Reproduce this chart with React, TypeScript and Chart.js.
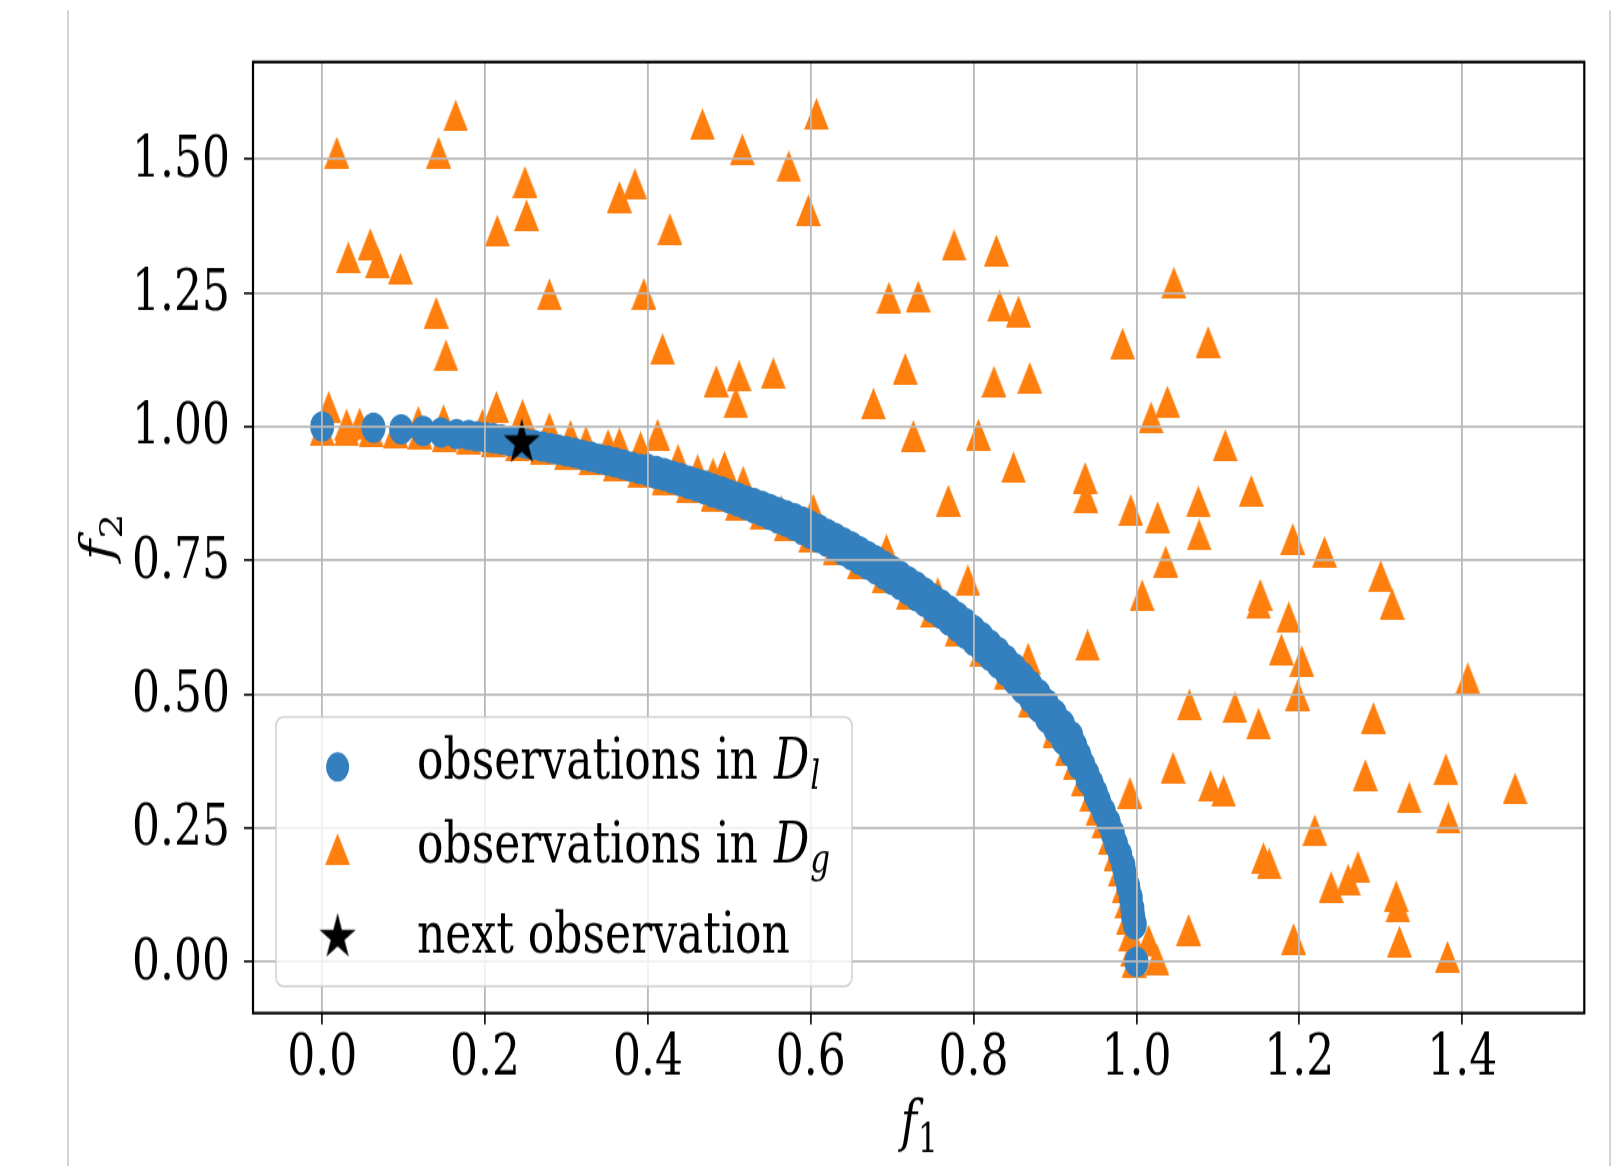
import React, { useEffect, useRef } from 'react';
import { Chart, registerables } from 'chart.js';

Chart.register(...registerables);

// ---------------- data ----------------
const X_TICKS = [0, 0.2, 0.4, 0.6, 0.8, 1.0, 1.2, 1.4];
const X_TICK_LABELS = ['0.0', '0.2', '0.4', '0.6', '0.8', '1.0', '1.2', '1.4'];
const Y_TICKS = [0, 0.25, 0.5, 0.75, 1.0, 1.25, 1.5];
const Y_TICK_LABELS = ['0.00', '0.25', '0.50', '0.75', '1.00', '1.25', '1.50'];
const X_RANGE = [-0.085, 1.55];
const Y_RANGE = [-0.0955, 1.681];

const LEGEND_TEXT = ['observations in ', 'observations in ', 'next observation'];
const LEGEND_MATH = ['D', 'D', ''];
const LEGEND_SUB = ['l', 'g', ''];
const X_TITLE = ['f', '1'];
const Y_TITLE = ['f', '2'];

// observations in D_l (the front)
const DL_F1 = [
  0.0, 0.063, 0.097, 0.124, 0.146, 0.165,
  0.18, 0.19, 0.2, 0.21, 0.22, 0.23, 0.24, 0.25, 0.26, 0.27,
  0.28, 0.29, 0.3, 0.31, 0.32, 0.33, 0.34, 0.35, 0.36, 0.37,
  0.38, 0.39, 0.4, 0.41, 0.42, 0.43, 0.44, 0.45, 0.46, 0.47,
  0.48, 0.49, 0.5, 0.51, 0.52, 0.53, 0.54, 0.55, 0.56, 0.57,
  0.58, 0.59, 0.6, 0.61, 0.62, 0.63, 0.64, 0.65, 0.66, 0.67,
  0.68, 0.69, 0.7, 0.71, 0.72, 0.73, 0.74, 0.75, 0.76, 0.77,
  0.78, 0.79, 0.8, 0.81, 0.82, 0.83, 0.84, 0.85, 0.86, 0.87,
  0.88, 0.89, 0.9, 0.91, 0.92, 0.93, 0.94, 0.95,
  0.954, 0.96, 0.966, 0.971, 0.975, 0.98, 0.984, 0.987, 0.99, 0.993, 0.995, 0.996, 0.998, 1.0,
];
const DL_F2 = [
  1.0, 0.998, 0.995, 0.992, 0.989, 0.986,
  0.984, 0.982, 0.98, 0.978, 0.976, 0.973, 0.971, 0.968, 0.966, 0.963,
  0.96, 0.957, 0.954, 0.951, 0.947, 0.944, 0.94, 0.937, 0.933, 0.929,
  0.925, 0.921, 0.917, 0.912, 0.908, 0.903, 0.898, 0.893, 0.888, 0.883,
  0.877, 0.872, 0.866, 0.86, 0.854, 0.848, 0.842, 0.835, 0.828, 0.822,
  0.815, 0.807, 0.8, 0.792, 0.785, 0.777, 0.768, 0.76, 0.751, 0.742,
  0.733, 0.724, 0.714, 0.704, 0.694, 0.683, 0.673, 0.661, 0.65, 0.638,
  0.626, 0.613, 0.6, 0.586, 0.572, 0.558, 0.543, 0.527, 0.51, 0.493,
  0.475, 0.456, 0.436, 0.415, 0.392, 0.368, 0.341, 0.312,
  0.3, 0.28, 0.26, 0.24, 0.22, 0.2, 0.18, 0.16, 0.14, 0.12, 0.1, 0.085, 0.07, 0.0,
];
// observations in D_l on the outer side of the band (middle part)
const DL_OUTER_F1 = [
  0.4, 0.41, 0.42, 0.43, 0.44, 0.45, 0.46, 0.47, 0.48, 0.49,
  0.5, 0.51, 0.52, 0.53, 0.54, 0.55, 0.56, 0.57, 0.58, 0.59,
  0.6, 0.61, 0.62, 0.63, 0.64, 0.65, 0.66, 0.67, 0.68, 0.69,
  0.7, 0.71, 0.72, 0.73, 0.74, 0.75, 0.76, 0.77, 0.78, 0.79,
  0.8, 0.81, 0.82, 0.83, 0.84, 0.85, 0.86, 0.87, 0.88, 0.89,
  0.9, 0.91, 0.92, 0.925, 0.93, 0.935, 0.94, 0.945, 0.95,
];
const DL_OUTER_F2 = [
  0.921, 0.917, 0.913, 0.908, 0.904, 0.899, 0.894, 0.89, 0.884, 0.879,
  0.873, 0.868, 0.862, 0.857, 0.852, 0.846, 0.84, 0.834, 0.829, 0.822,
  0.815, 0.808, 0.8, 0.792, 0.784, 0.776, 0.767, 0.758, 0.75, 0.74,
  0.731, 0.721, 0.711, 0.701, 0.69, 0.679, 0.668, 0.657, 0.645, 0.633,
  0.62, 0.607, 0.593, 0.579, 0.564, 0.549, 0.533, 0.517, 0.5, 0.482,
  0.463, 0.443, 0.422, 0.403, 0.385, 0.367, 0.35, 0.333, 0.316,
];

// observations in D_g lying just under the front
const DG_EDGE_F1 = [
  0.0, 0.03, 0.06, 0.09, 0.12, 0.15, 0.18, 0.21, 0.24, 0.27, 0.3, 0.33, 0.36, 0.39, 0.42,
  0.45, 0.48, 0.51, 0.54, 0.57, 0.6, 0.63, 0.66, 0.69, 0.72, 0.75, 0.78, 0.81, 0.84, 0.87, 0.9,
  0.915, 0.925, 0.935, 0.945, 0.953, 0.96, 0.968, 0.975, 0.98, 0.985, 0.988, 0.99, 0.993, 0.995, 0.997,
];
const DG_EDGE_F2 = [
  0.994, 0.994, 0.992, 0.99, 0.987, 0.983, 0.978, 0.972, 0.965, 0.957, 0.948, 0.938, 0.927, 0.915, 0.902,
  0.887, 0.871, 0.854, 0.836, 0.816, 0.794, 0.771, 0.745, 0.718, 0.688, 0.655, 0.62, 0.58, 0.537, 0.487, 0.43,
  0.395, 0.37, 0.34, 0.31, 0.285, 0.26, 0.23, 0.2, 0.17, 0.14, 0.11, 0.08, 0.05, 0.02, 0.0,
];

// observations in D_g just above the front
const DG_NEAR_F1 = [
  0.008, 0.03, 0.046, 0.118, 0.149, 0.197, 0.214, 0.246, 0.279, 0.305,
  0.324, 0.351, 0.365, 0.391, 0.412, 0.437, 0.461, 0.48, 0.494, 0.517,
  0.564, 0.603, 0.64, 0.693, 0.7, 0.74, 0.756, 0.79, 0.793, 0.82,
  0.85, 0.867, 0.88, 0.94, 0.992, 1.015, 1.025,
];
const DG_NEAR_F2 = [
  1.037, 1.004, 1.006, 1.009, 1.012, 1.004, 1.037, 1.022, 0.997, 0.983,
  0.972, 0.966, 0.969, 0.962, 0.985, 0.938, 0.919, 0.912, 0.925, 0.897,
  0.841, 0.845, 0.785, 0.77, 0.73, 0.69, 0.689, 0.63, 0.713, 0.59,
  0.545, 0.567, 0.49, 0.592, 0.316, 0.04, 0.005,
];

// observations in D_g scattered in the dominated region
const DG_F1 = [
  0.018, 0.143, 0.164, 0.467, 0.249, 0.251, 0.215, 0.365, 0.384, 0.427,
  0.032, 0.059, 0.068, 0.096, 0.279, 0.395, 0.14, 0.152, 0.418,
  0.607, 0.516, 0.573, 0.597, 0.776, 0.828, 0.696, 0.732, 0.832, 0.855,
  0.983, 0.484, 0.512, 0.508, 0.554, 0.716, 0.825, 0.869, 0.677, 0.726,
  0.806, 0.849, 0.769, 0.937, 0.938, 0.993, 1.026,
  1.046, 1.088, 1.038, 1.018, 1.109, 1.141, 1.076, 1.077, 1.192,
  1.231, 1.036, 1.007, 1.3, 1.314, 1.152, 1.15, 1.187, 1.178, 1.203,
  1.198, 1.407, 1.065, 1.121, 1.15, 1.291, 1.045, 1.091, 1.107, 1.281,
  1.38, 1.335, 1.465, 1.383, 1.219, 1.156, 1.163, 1.239, 1.26, 1.272,
  1.319, 1.321, 1.323, 1.382, 1.193, 1.064,
];
const DG_F2 = [
  1.512, 1.512, 1.581, 1.565, 1.457, 1.395, 1.366, 1.429, 1.453, 1.369,
  1.316, 1.341, 1.307, 1.295, 1.247, 1.248, 1.213, 1.133, 1.145,
  1.584, 1.518, 1.486, 1.404, 1.339, 1.329, 1.241, 1.243, 1.226, 1.215,
  1.155, 1.085, 1.095, 1.045, 1.1, 1.108, 1.084, 1.091, 1.043, 0.983,
  0.985, 0.924, 0.862, 0.904, 0.868, 0.844, 0.831,
  1.269, 1.158, 1.047, 1.017, 0.965, 0.88, 0.86, 0.798, 0.79,
  0.766, 0.748, 0.685, 0.721, 0.669, 0.686, 0.67, 0.644, 0.584, 0.562,
  0.499, 0.53, 0.481, 0.476, 0.445, 0.456, 0.363, 0.329, 0.319, 0.349,
  0.36, 0.307, 0.324, 0.269, 0.246, 0.194, 0.184, 0.14, 0.154, 0.178,
  0.123, 0.103, 0.038, 0.01, 0.043, 0.06,
];

// next observation
const NEXT_F1 = [0.245];
const NEXT_F2 = [0.97];

// ---------------- styling ----------------
const PAGE_W = 1614;
const PAGE_H = 1166;
const STRETCH = 1.27; // the reference picture is stretched vertically
const CANVAS_H = Math.round(PAGE_H / STRETCH);
const BLUE = '#3480bf';
const ORANGE = '#ff7f0e';
const GRID = '#b9b9b9';
const FONT = '"DejaVu Serif"';
const FS = 44;

const toPts = (xs: number[], ys: number[]) => xs.map((x, i) => ({ x, y: ys[i] }));

function makeTriangle(color: string, size: number) {
  const c = document.createElement('canvas');
  c.width = size;
  c.height = size;
  const g = c.getContext('2d')!;
  g.fillStyle = color;
  g.beginPath();
  g.moveTo(size / 2, 0);
  g.lineTo(size, size);
  g.lineTo(0, size);
  g.closePath();
  g.fill();
  return c;
}

function makeStar(color: string, R: number) {
  const s = Math.ceil(2 * R + 2);
  const c = document.createElement('canvas');
  c.width = s;
  c.height = s;
  const g = c.getContext('2d')!;
  g.fillStyle = color;
  g.beginPath();
  for (let k = 0; k < 10; k++) {
    const a = -Math.PI / 2 + (k * Math.PI) / 5;
    const r = k % 2 === 0 ? R : R * 0.382;
    const px = s / 2 + r * Math.cos(a);
    const py = s / 2 + r * Math.sin(a);
    if (k === 0) g.moveTo(px, py);
    else g.lineTo(px, py);
  }
  g.closePath();
  g.fill();
  return c;
}

export default function App() {
  const ref = useRef<HTMLCanvasElement>(null);

  useEffect(() => {
    const canvas = ref.current!;
    const tri = makeTriangle(ORANGE, 25);
    const star = makeStar('#000000', 19);

    const decor = {
      id: 'decor',
      beforeDraw(chart: any) {
        const { ctx, width, height } = chart;
        ctx.save();
        ctx.fillStyle = '#ffffff';
        ctx.fillRect(0, 0, width, height);
        ctx.strokeStyle = '#c6c6c6';
        ctx.lineWidth = 1.5;
        ctx.beginPath();
        ctx.moveTo(68, 8);
        ctx.lineTo(68, height);
        ctx.moveTo(1610, 8);
        ctx.lineTo(1610, height);
        ctx.stroke();
        ctx.restore();
      },
      afterDraw(chart: any) {
        const { ctx, chartArea: a } = chart;
        ctx.save();
        // axes frame
        ctx.strokeStyle = '#000000';
        ctx.lineWidth = 2.2;
        ctx.strokeRect(a.left, a.top, a.right - a.left, a.bottom - a.top);

        // legend box
        const bx = 276, by = 564.6, bw = 576, bh = 211.8, r = 7;
        ctx.beginPath();
        ctx.roundRect(bx, by, bw, bh, r);
        ctx.fillStyle = 'rgba(255,255,255,0.8)';
        ctx.fill();
        ctx.strokeStyle = '#d0d0d0';
        ctx.lineWidth = 1.5;
        ctx.stroke();

        const mx = 337.6;
        const rowsY = [603.8, 668.6, 737.8];
        const base = [613, 678.7, 750.4];
        // markers
        ctx.fillStyle = BLUE;
        ctx.beginPath();
        ctx.arc(mx, rowsY[0], 11.5, 0, Math.PI * 2);
        ctx.fill();
        ctx.drawImage(tri, mx - tri.width / 2, rowsY[1] - tri.height / 2);
        ctx.drawImage(star, mx - star.width / 2, rowsY[2] - star.height / 2);

        // labels
        ctx.fillStyle = '#000000';
        ctx.textBaseline = 'alphabetic';
        ctx.textAlign = 'left';
        for (let i = 0; i < 3; i++) {
          let x = 417;
          ctx.font = `${FS}px ${FONT}`;
          ctx.fillText(LEGEND_TEXT[i], x, base[i]);
          x += ctx.measureText(LEGEND_TEXT[i]).width;
          if (LEGEND_MATH[i]) {
            ctx.font = `italic ${FS}px ${FONT}`;
            ctx.fillText(LEGEND_MATH[i], x + 2, base[i]);
            x += ctx.measureText(LEGEND_MATH[i]).width + 2;
            ctx.font = `italic 31px ${FONT}`;
            ctx.fillText(LEGEND_SUB[i], x + 1, base[i] + 8);
          }
        }

        // x title
        ctx.font = `italic ${FS}px ${FONT}`;
        const fw = ctx.measureText(X_TITLE[0]).width;
        ctx.font = `31px ${FONT}`;
        const sw = ctx.measureText(X_TITLE[1]).width;
        let tx = (a.left + a.right) / 2 - (fw + sw) / 2;
        ctx.font = `italic ${FS}px ${FONT}`;
        ctx.fillText(X_TITLE[0], tx, 897.5);
        ctx.font = `31px ${FONT}`;
        ctx.fillText(X_TITLE[1], tx + fw + 1, 907);

        // y title (rotated)
        ctx.translate(112, (a.top + a.bottom) / 2);
        ctx.rotate(-Math.PI / 2);
        ctx.font = `italic ${FS}px ${FONT}`;
        const fw2 = ctx.measureText(Y_TITLE[0]).width;
        ctx.font = `31px ${FONT}`;
        const sw2 = ctx.measureText(Y_TITLE[1]).width;
        tx = -(fw2 + sw2) / 2;
        ctx.font = `italic ${FS}px ${FONT}`;
        ctx.fillText(Y_TITLE[0], tx, 0);
        ctx.font = `31px ${FONT}`;
        ctx.fillText(Y_TITLE[1], tx + fw2 + 1, 10);
        ctx.restore();
      },
    };

    const tickFont = { family: 'DejaVu Serif', size: FS, lineHeight: 1.2 };

    const chart = new Chart(canvas, {
      type: 'scatter',
      data: {
        datasets: [
          {
            label: 'next observation',
            data: toPts(NEXT_F1, NEXT_F2),
            pointStyle: star as any,
            pointRadius: 19,
            order: 0,
          },
          {
            label: 'observations in D_l',
            data: [...toPts(DL_F1, DL_F2), ...toPts(DL_OUTER_F1, DL_OUTER_F2)],
            pointStyle: 'circle',
            pointRadius: 12,
            backgroundColor: BLUE,
            borderWidth: 0,
            order: 1,
          },
          {
            label: 'observations in D_g',
            data: [
              ...toPts(DG_EDGE_F1, DG_EDGE_F2),
              ...toPts(DG_NEAR_F1, DG_NEAR_F2),
              ...toPts(DG_F1, DG_F2),
            ],
            pointStyle: tri as any,
            pointRadius: 12,
            order: 2,
          },
        ],
      },
      options: {
        responsive: false,
        animation: false,
        devicePixelRatio: 1,
        events: [],
        layout: { padding: { left: 53, right: 29.7, top: 48.8, bottom: 40.4 } },
        plugins: { legend: { display: false }, tooltip: { enabled: false } },
        scales: {
          x: {
            type: 'linear',
            min: X_RANGE[0],
            max: X_RANGE[1],
            afterBuildTicks: (s: any) => {
              s.ticks = X_TICKS.map((v) => ({ value: v }));
            },
            afterFit: (s: any) => {
              s.height = 80;
            },
            grid: { color: GRID, lineWidth: 1.8, tickColor: '#000', tickLength: 9, tickWidth: 1.6, z: 1 },
            border: { display: false },
            ticks: {
              font: tickFont,
              color: '#000',
              padding: 2,
              maxRotation: 0,
              autoSkip: false,
              callback: (_v: any, i: number) => X_TICK_LABELS[i],
            },
          },
          y: {
            type: 'linear',
            min: Y_RANGE[0],
            max: Y_RANGE[1],
            afterBuildTicks: (s: any) => {
              s.ticks = Y_TICKS.map((v) => ({ value: v }));
            },
            afterFit: (s: any) => {
              s.width = 200;
            },
            grid: { color: GRID, lineWidth: 1.8, tickColor: '#000', tickLength: 9, tickWidth: 1.6, z: 1 },
            border: { display: false },
            ticks: {
              font: tickFont,
              color: '#000',
              padding: 14,
              labelOffset: 2,
              autoSkip: false,
              callback: (_v: any, i: number) => Y_TICK_LABELS[i],
            },
          },
        },
      },
      plugins: [decor],
    } as any);

    return () => chart.destroy();
  }, []);

  return (
    <canvas
      ref={ref}
      width={PAGE_W}
      height={CANVAS_H}
      style={{
        position: 'fixed',
        left: 0,
        top: 0,
        width: `${PAGE_W}px`,
        height: `${PAGE_H}px`,
        display: 'block',
      }}
    />
  );
}
